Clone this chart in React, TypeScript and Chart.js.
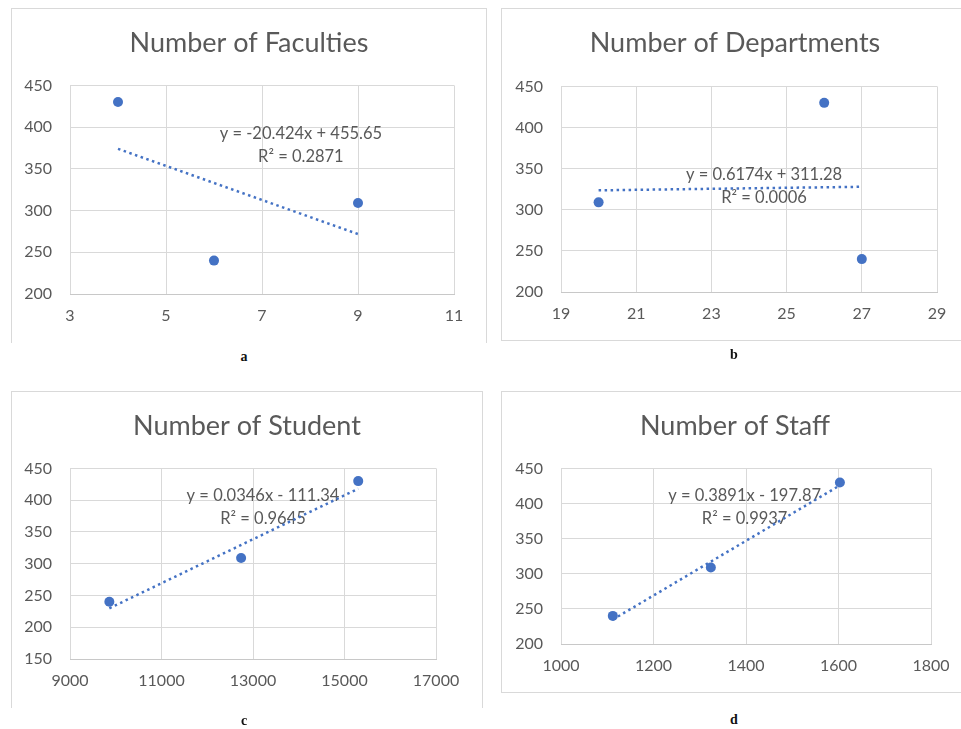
import React, { useEffect, useRef } from "react";
import { Chart, registerables } from "chart.js";

Chart.register(...registerables);

// ---------- data ----------
const outcomeY = [430, 240, 309];
const facultiesX = [4, 6, 9];
const departmentsX = [26, 27, 20];
const studentsX = [15300, 9860, 12740];
const staffX = [1603, 1112, 1324];

const chartTitles = ["Number of Faculties", "Number of Departments", "Number of Student", "Number of Staff"];
const captions = ["a", "b", "c", "d"];

const trendSlopes = [-20.424, 0.6174, 0.0346, 0.3891];
const trendIntercepts = [455.65, 311.28, -111.34, -197.87];
const equationLabels = ["y = -20.424x + 455.65", "y = 0.6174x + 311.28", "y = 0.0346x - 111.34", "y = 0.3891x - 197.87"];
const rSquaredLabels = ["R² = 0.2871", "R² = 0.0006", "R² = 0.9645", "R² = 0.9937"];

const xTickMin = [3, 19, 9000, 1000];
const xTickMax = [11, 29, 17000, 1800];
const xTickStep = [2, 2, 2000, 200];
const yTickMin = [200, 200, 150, 200];
const yTickMax = [450, 450, 450, 450];
const yTickStep = [50, 50, 50, 50];

// ---------- layout / style ----------
const FONT = 'Lato, "Open Sans", "Noto Sans", sans-serif';
const TEXT = "#595959";
const BLUE = "#4472C4";
const GRID = "#d9d9d9";

type Layout = {
  left: number; top: number; width: number; height: number;
  borders: { top?: boolean; left?: boolean; right?: boolean; bottom?: boolean };
  rightPad: number; yAxisWidth: number; titleBottom: number;
  eqPos: [number, number];
  caption: [number, number];
};

const layouts: Layout[] = [
  { left: 11, top: 8, width: 476, height: 335, borders: { top: true, left: true, right: true }, rightPad: 33, yAxisWidth: 59, titleBottom: 27, eqPos: [7.81, 392.6], caption: [244, 357] },
  { left: 501, top: 8, width: 468, height: 333, borders: { top: true, left: true, bottom: true }, rightPad: 32, yAxisWidth: 60, titleBottom: 28, eqPos: [24.4, 343.2], caption: [734, 355] },
  { left: 11, top: 391, width: 472, height: 317, borders: { top: true, left: true, right: true }, rightPad: 47, yAxisWidth: 59, titleBottom: 27, eqPos: [13219, 407.6], caption: [244, 721] },
  { left: 501, top: 391, width: 468, height: 302, borders: { top: true, left: true, bottom: true }, rightPad: 38, yAxisWidth: 60, titleBottom: 27, eqPos: [1397, 411.6], caption: [734, 720] },
];

const xSeries = [facultiesX, departmentsX, studentsX, staffX];

const eqPlugin = {
  id: "eqLabels",
  beforeDatasetsDraw(chart: any, _args: any, opts: any) {
    const { ctx } = chart;
    const xs = chart.scales.x;
    const ys = chart.scales.y;
    const px = xs.getPixelForValue(opts.x);
    const py = ys.getPixelForValue(opts.y);
    ctx.save();
    ctx.font = `16.5px ${FONT}`;
    ctx.fillStyle = TEXT;
    ctx.textAlign = "center";
    ctx.textBaseline = "middle";
    ctx.fillText(opts.lines[0], px, py);
    ctx.fillText(opts.lines[1], px, py + 23.5);
    ctx.restore();
  },
};

function Panel({ idx }: { idx: number }) {
  const ref = useRef<HTMLCanvasElement | null>(null);
  const L = layouts[idx];

  useEffect(() => {
    if (!ref.current) return;
    const xs = xSeries[idx];
    const points = xs.map((x, i) => ({ x, y: outcomeY[i] }));
    const minX = Math.min(...xs);
    const maxX = Math.max(...xs);
    const trend = [minX, maxX].map((x) => ({ x, y: trendSlopes[idx] * x + trendIntercepts[idx] }));

    const chart = new Chart(ref.current, {
      type: "scatter",
      data: {
        datasets: [
          {
            data: points,
            backgroundColor: BLUE,
            borderColor: BLUE,
            borderWidth: 0,
            pointRadius: 5,
            pointHoverRadius: 5,
          },
          {
            data: trend,
            showLine: true,
            borderColor: BLUE,
            borderWidth: 2.5,
            borderDash: [2.5, 3.5],
            borderCapStyle: "butt",
            pointRadius: 0,
            pointHoverRadius: 0,
            fill: false,
          } as any,
        ],
      },
      options: {
        responsive: false,
        animation: false,
        events: [],
        layout: { padding: { left: 0, right: 0, top: 0, bottom: 9 } },
        plugins: {
          legend: { display: false },
          tooltip: { enabled: false },
          title: {
            display: true,
            text: chartTitles[idx],
            color: TEXT,
            font: { family: FONT, size: 27, weight: "normal" as any, lineHeight: 1.2 },
            padding: { top: 19, bottom: L.titleBottom - 1 },
          },
          eqLabels: { x: L.eqPos[0], y: L.eqPos[1], lines: [equationLabels[idx], rSquaredLabels[idx]] },
        } as any,
        scales: {
          x: {
            type: "linear",
            min: xTickMin[idx],
            max: xTickMax[idx],
            grid: { color: GRID, drawTicks: false, lineWidth: 1 },
            border: { display: true, color: "#c8c8c8" },
            ticks: {
              stepSize: xTickStep[idx],
              autoSkip: false,
              maxRotation: 0,
              padding: 12,
              color: TEXT,
              font: { family: FONT, size: 16 },
              callback: (v: any) => String(v),
            },
            afterFit: (s: any) => { s.height = 40; },
          },
          y: {
            type: "linear",
            position: "left",
            min: yTickMin[idx],
            max: yTickMax[idx],
            grid: { color: GRID, drawTicks: false, lineWidth: 1 },
            border: { display: false },
            ticks: {
              stepSize: yTickStep[idx],
              padding: 18,
              color: TEXT,
              font: { family: FONT, size: 16 },
              callback: (v: any) => String(v),
            },
            afterFit: (s: any) => { s.width = L.yAxisWidth; },
          },
          spacer: {
            type: "linear",
            position: "right",
            display: true,
            grid: { display: false, drawTicks: false },
            border: { display: false },
            ticks: { display: false },
            afterFit: (s: any) => { s.width = L.rightPad; },
          },
        } as any,
      },
      plugins: [eqPlugin as any],
    });
    return () => chart.destroy();
  }, [idx]);

  const b = L.borders;
  return (
    <>
      <div style={{ position: "absolute", left: L.left, top: L.top, width: L.width, height: L.height }}>
        <canvas ref={ref} width={L.width} height={L.height} style={{ display: "block" }} />
        <div
          style={{
            position: "absolute",
            inset: 0,
            boxSizing: "border-box",
            pointerEvents: "none",
            borderTop: b.top ? `1px solid ${GRID}` : "none",
            borderLeft: b.left ? `1px solid ${GRID}` : "none",
            borderRight: b.right ? `1px solid ${GRID}` : "none",
            borderBottom: b.bottom ? `1px solid ${GRID}` : "none",
          }}
        />
      </div>
      <div
        style={{
          position: "absolute",
          left: L.caption[0] - 20,
          width: 40,
          top: L.caption[1] - 9,
          height: 18,
          lineHeight: "18px",
          textAlign: "center",
          fontFamily: '"Liberation Serif", "DejaVu Serif", serif',
          fontWeight: "bold",
          fontSize: 14,
          color: "#111",
        }}
      >
        {captions[idx]}
      </div>
    </>
  );
}

export default function App() {
  return (
    <div
      style={{
        position: "absolute",
        left: 0,
        top: 0,
        width: 961,
        height: 729,
        overflow: "hidden",
        background: "#fff",
      }}
    >
      {[0, 1, 2, 3].map((i) => (
        <Panel key={i} idx={i} />
      ))}
    </div>
  );
}
